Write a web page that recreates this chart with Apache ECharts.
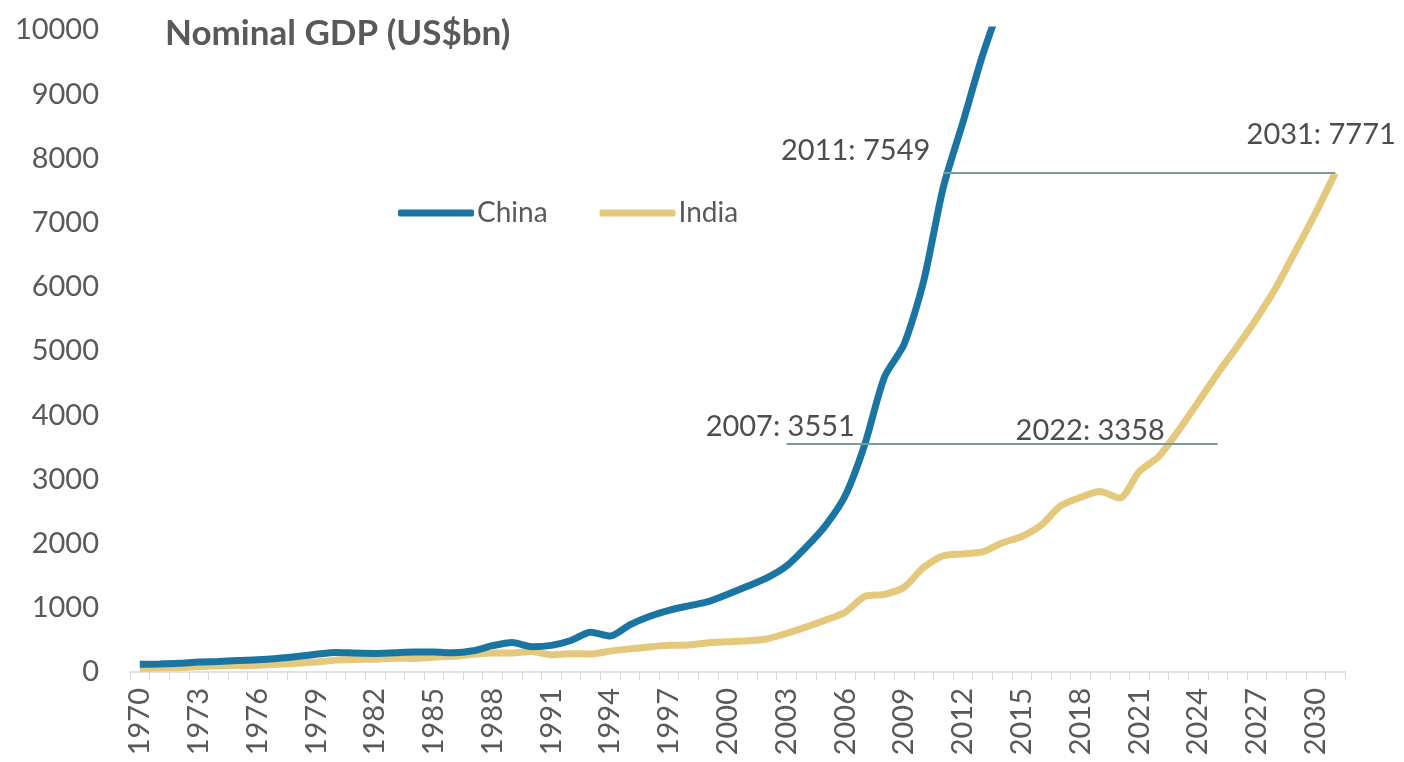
<!DOCTYPE html>
<html>
<head>
<meta charset="utf-8">
<script src="https://cdn.jsdelivr.net/npm/echarts@6/dist/echarts.min.js"></script>
<style>
  html, body { margin: 0; padding: 0; background: #ffffff; }
  #chart { width: 1404px; height: 762px; }
</style>
</head>
<body>
<div id="chart"></div>
<script>
// Years on the category axis (1970 to 2031)
const years = [
  '1970','1971','1972','1973','1974','1975','1976','1977','1978','1979',
  '1980','1981','1982','1983','1984','1985','1986','1987','1988','1989',
  '1990','1991','1992','1993','1994','1995','1996','1997','1998','1999',
  '2000','2001','2002','2003','2004','2005','2006','2007','2008','2009',
  '2010','2011','2012','2013','2014','2015','2016','2017','2018','2019',
  '2020','2021','2022','2023','2024','2025','2026','2027','2028','2029',
  '2030','2031'
];

// Nominal GDP, US$bn — China (1970 to 2014)
const china = [
  120, 125, 135, 155, 165, 180, 190, 210, 240, 275,
  305, 295, 290, 300, 310, 310, 300, 330, 410, 460,
  395, 415, 490, 620, 560, 735, 865, 960, 1030, 1095,
  1210, 1335, 1465, 1650, 1945, 2285, 2750, 3551, 4595, 5105,
  6090, 7549, 8560, 9600, 10480
];

// Nominal GDP, US$bn — India (1970 to 2031)
const india = [
  60, 65, 70, 85, 98, 100, 105, 120, 135, 155,
  185, 195, 200, 215, 210, 230, 245, 275, 295, 295,
  320, 270, 285, 280, 325, 360, 390, 415, 420, 455,
  470, 485, 515, 600, 700, 810, 930, 1180, 1210, 1320,
  1630, 1810, 1840, 1870, 2010, 2110, 2290, 2590, 2720, 2810,
  2710, 3120, 3358, 3760, 4200, 4650, 5070, 5510, 6000, 6570,
  7150, 7771
];

// Y-axis ticks
const yMin = 0;
const yMax = 10000;
const yStep = 1000;

// Milestones called out on the chart
const chinaNotes = [
  { year: '2011', value: 7549 },
  { year: '2007', value: 3551 }
];
const indiaNotes = [
  { year: '2031', value: 7771 },
  { year: '2022', value: 3358 }
];

// Horizontal guides linking the matching levels
const guides = [
  { from: '2011', to: '2031', level: 7771 },
  { from: '2003', to: '2025', level: 3551 }
];

const FONT = 'Lato, "Open Sans", sans-serif';
const TEXT = '#595959';
const CHINA_COLOR = '#1b75a2';
const INDIA_COLOR = '#e4c87c';

// label placement for each callout: [dx, dy] from the point, and alignment
const notePlacement = {
  '2011': { position: [-13, -37], align: 'right' },
  '2007': { position: [-10, -17], align: 'right' },
  '2031': { position: [-14, -38], align: 'center' },
  '2022': { position: [6, -26], align: 'right' }
};

function notePoints(notes) {
  return notes.map(n => {
    const p = notePlacement[n.year];
    return {
      coord: [n.year, n.value],
      label: {
        show: true,
        formatter: n.year + ': ' + n.value,
        position: p.position,
        align: p.align,
        verticalAlign: 'middle',
        fontFamily: FONT,
        fontSize: 29,
        color: '#4d4d4d'
      }
    };
  });
}

const chart = echarts.init(document.getElementById('chart'), null, { renderer: 'canvas' });

chart.setOption({
  animation: false,
  backgroundColor: '#ffffff',
  title: {
    text: 'Nominal GDP (US$bn)',
    left: 160,
    top: 11,
    textStyle: {
      fontFamily: FONT,
      fontSize: 35,
      fontWeight: 'bold',
      color: TEXT
    }
  },
  legend: {
    data: ['China', 'India'],
    left: 393,
    top: 194,
    itemWidth: 76,
    itemHeight: 7,
    itemGap: 52,
    icon: 'roundRect',
    textStyle: { fontFamily: FONT, fontSize: 28, color: TEXT, padding: [0, 0, 0, -2] }
  },
  grid: { left: 130, right: 59, top: 30, bottom: 90, containLabel: false },
  xAxis: {
    type: 'category',
    data: years,
    boundaryGap: true,
    axisLine: { show: true, lineStyle: { color: '#d9d9d9', width: 1.5 } },
    axisTick: { show: true, interval: 0, length: 8, lineStyle: { color: '#d9d9d9' } },
    axisLabel: {
      interval: 2,
      rotate: 90,
      margin: 16,
      fontFamily: FONT,
      fontSize: 29,
      color: TEXT
    },
    splitLine: { show: false }
  },
  yAxis: {
    type: 'value',
    min: yMin,
    max: yMax,
    interval: yStep,
    axisLine: { show: false },
    axisTick: { show: false },
    splitLine: { show: false },
    axisLabel: {
      margin: 31,
      fontFamily: FONT,
      fontSize: 29,
      color: TEXT,
      formatter: v => String(v)
    }
  },
  series: [
    {
      name: 'India',
      type: 'line',
      data: india,
      symbol: 'none',
      smooth: 0.25,
      clip: true,
      z: 2,
      lineStyle: { color: INDIA_COLOR, width: 7 },
      itemStyle: { color: INDIA_COLOR },
      markLine: {
        silent: true,
        symbol: 'none',
        label: { show: false },
        lineStyle: { color: '#7a9c9e', width: 2, type: 'solid' },
        data: guides.map(g => [
          { coord: [g.from, g.level] },
          { coord: [g.to, g.level] }
        ])
      },
      markPoint: {
        symbol: 'circle',
        symbolSize: 0,
        data: notePoints(indiaNotes)
      }
    },
    {
      name: 'China',
      type: 'line',
      data: china,
      symbol: 'none',
      smooth: 0.25,
      clip: true,
      z: 3,
      lineStyle: { color: CHINA_COLOR, width: 7 },
      itemStyle: { color: CHINA_COLOR },
      markPoint: {
        symbol: 'circle',
        symbolSize: 0,
        data: notePoints(chinaNotes)
      }
    }
  ]
});
</script>
</body>
</html>
